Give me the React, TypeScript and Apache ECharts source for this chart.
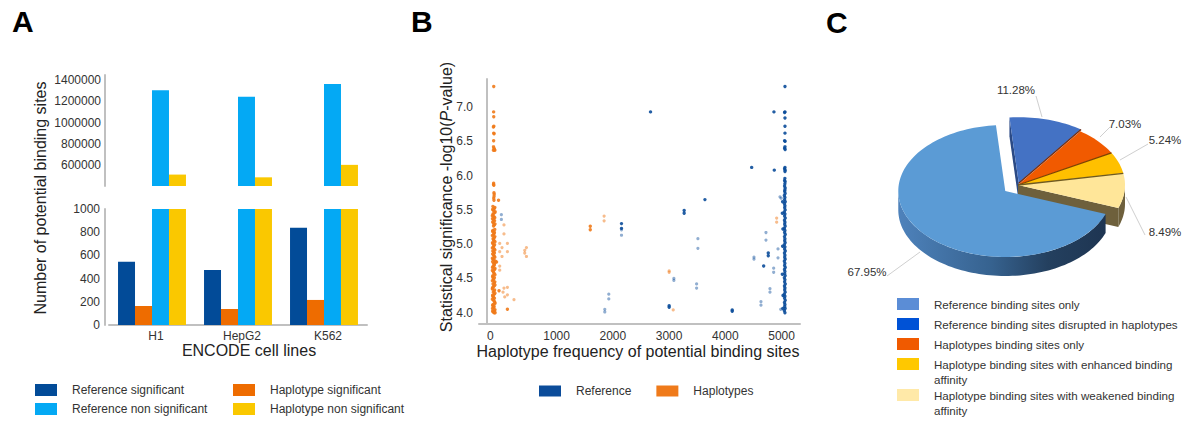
import React, { useEffect, useRef } from 'react';
import * as echarts from 'echarts';

const FONT = "'Liberation Sans', Arial, Helvetica, sans-serif";

// ---------- Panel A data ----------
const cellLines = ['H1', 'HepG2', 'K562'];
const refSignificant = [546, 474, 839];
const hapSignificant = [164, 138, 216];
const refNonSignificant = [1305000, 1245000, 1365000];
const hapNonSignificant = [508000, 482000, 600000];
const barNames = ['Reference significant', 'Haplotype significant', 'Reference non significant', 'Haplotype non significant'];
const barColors = ['#024B98', '#EE6C00', '#04A9F4', '#FAC800'];

// ---------- Panel B data: [haplotype frequency, -log10(P)] ----------
const refStrong = [
  [5297, 7.3], [5297, 6.93], [5290, 6.92], [5297, 6.84], [5297, 6.72], [5297, 6.62], [5290, 6.51], [5300, 6.5],
  [5297, 6.42], [5290, 6.4], [5300, 6.38], [5297, 6.12], [5290, 6.1], [5300, 6.08], [5297, 6.06], [5295, 5.96],
  [5290, 5.93], [5300, 5.91], [5295, 5.88], [5290, 5.85], [5300, 5.82], [5295, 5.79],
  [5292, 5.77], [5300, 5.74], [5286, 5.71], [5296, 5.68], [5290, 5.65], [5302, 5.62], [5288, 5.59], [5296, 5.56],
  [5292, 5.53], [5300, 5.5], [5286, 5.47], [5296, 5.44], [5290, 5.41], [5302, 5.38], [5288, 5.35], [5296, 5.32],
  [5292, 5.29], [5300, 5.26], [5286, 5.23], [5296, 5.2], [5290, 5.17], [5302, 5.14], [5288, 5.11], [5296, 5.08],
  [5292, 5.05], [5300, 5.02], [5286, 4.99], [5296, 4.96], [5290, 4.93], [5302, 4.9], [5288, 4.87], [5296, 4.84],
  [5292, 4.81], [5300, 4.78], [5286, 4.75], [5296, 4.72], [5290, 4.69], [5302, 4.66], [5288, 4.63], [5296, 4.6],
  [5292, 4.57], [5300, 4.54], [5286, 4.51], [5296, 4.48], [5290, 4.45], [5302, 4.42], [5288, 4.39], [5296, 4.36],
  [5292, 4.33], [5300, 4.3], [5286, 4.27], [5296, 4.24], [5290, 4.21], [5302, 4.18], [5288, 4.15], [5296, 4.12],
  [5292, 4.09], [5300, 4.06], [5286, 4.03], [5296, 4.0],
  [5255, 5.62], [5250, 5.45], [5260, 5.22], [5255, 4.97], [5250, 4.56], [5262, 4.25], [5258, 4.06],
  [2907, 6.93], [4705, 6.12], [5107, 6.08], [3874, 5.65], [3505, 5.49], [3505, 5.45], [5000, 4.87], [5000, 4.83],
  [4918, 4.68], [3238, 4.1], [3238, 4.08], [4359, 4.04], [4359, 4.02], [2391, 5.3], [2391, 5.23], [5101, 6.93],
];
const refFaint = [
  [256, 5.43], [256, 5.36], [2391, 5.21], [2391, 5.13], [2165, 4.27], [2165, 4.2], [2094, 4.05], [2094, 4.01],
  [4959, 5.17], [4959, 5.06], [3749, 5.08], [3749, 4.94], [5173, 4.93], [5173, 4.8], [4746, 4.81], [4746, 4.78],
  [5096, 4.65], [5096, 4.59], [3322, 4.5], [3322, 4.47], [3726, 4.42], [3726, 4.36], [5030, 4.35], [5030, 4.3],
  [4870, 4.16], [4870, 4.11], [5221, 4.05], [5208, 5.69], [5230, 5.67],
];
const hapStrong = [
  [120, 7.3], [118, 6.93], [120, 6.86], [122, 6.72], [114, 6.71], [120, 6.62], [126, 6.61], [118, 6.51],
  [116, 6.42], [124, 6.4], [132, 6.38], [114, 6.37], [140, 6.37], [118, 5.89], [116, 5.87], [122, 5.86],
  [124, 5.75], [128, 5.73], [126, 5.7], [120, 5.67], [124, 5.64], [205, 5.64],
  [105, 5.55], [130, 5.52], [115, 5.49], [140, 5.46], [108, 5.43], [125, 5.4], [98, 5.37], [135, 5.34],
  [112, 5.31], [128, 5.28], [104, 5.2], [132, 5.17], [118, 5.14], [140, 5.11], [108, 5.08], [126, 5.05],
  [98, 5.02], [135, 4.99], [112, 4.96], [128, 4.93], [104, 4.9], [132, 4.87], [118, 4.84], [140, 4.81],
  [108, 4.78], [150, 4.75], [170, 4.74], [140, 4.73], [115, 4.72], [126, 4.69], [98, 4.66], [135, 4.63],
  [112, 4.6], [128, 4.57], [104, 4.54], [132, 4.51], [118, 4.48], [140, 4.45], [108, 4.42], [126, 4.39],
  [98, 4.36], [135, 4.33], [112, 4.3], [128, 4.27], [104, 4.24], [132, 4.21], [118, 4.18], [140, 4.15],
  [108, 4.12], [126, 4.09], [98, 4.06], [135, 4.03], [112, 4.01], [128, 4.0],
  [140, 5.535], [100, 5.505], [145, 5.475], [110, 5.445], [95, 5.415], [138, 5.385], [118, 5.355], [102, 5.325],
  [142, 5.295], [116, 5.265], [138, 5.215], [100, 5.185], [125, 5.155], [96, 5.125], [130, 5.095], [115, 5.065],
  [142, 5.035], [106, 5.005], [122, 4.975], [96, 4.945], [140, 4.915], [115, 4.885], [100, 4.855], [128, 4.825],
  [96, 4.795], [125, 4.765], [100, 4.745], [132, 4.705], [108, 4.675], [142, 4.645], [96, 4.615], [120, 4.585],
  [142, 4.555], [100, 4.525], [112, 4.495], [96, 4.465], [130, 4.435], [142, 4.405], [110, 4.375], [96, 4.345],
  [125, 4.315], [142, 4.285], [100, 4.255], [115, 4.225], [96, 4.195], [130, 4.165], [142, 4.135], [100, 4.105],
  [120, 4.075], [142, 4.045], [100, 4.02], [145, 4.0],
  [214, 4.32], [363, 4.05], [1836, 5.26], [1836, 5.21],
];
const hapFaint = [
  [302, 5.28], [302, 5.15], [226, 5.01], [363, 5.01], [267, 4.95], [226, 4.89], [363, 4.89], [267, 4.82],
  [226, 4.68], [226, 4.62], [363, 4.37], [302, 4.36], [285, 4.3], [315, 4.23], [363, 4.26], [480, 4.19],
  [671, 4.91], [671, 4.87], [701, 4.95], [701, 4.82], [2082, 5.41], [2082, 5.34], [3238, 4.61], [3238, 4.59],
  [3310, 4.04], [5149, 5.38], [5149, 5.32],
];
const scatterBlue = '#0B4C9A';
const scatterOrange = '#EF7A1A';

// ---------- Panel C data ----------
const pieNames = [
  'Reference binding sites only',
  'Reference binding sites disrupted in haplotypes',
  'Haplotypes binding sites only',
  'Haplotype binding sites with enhanced binding\naffinity',
  'Haplotype binding sites with weakened binding\naffinity',
];
const piePercents = [67.95, 11.28, 7.03, 5.24, 8.49];

// ---------- Panel C geometry / styles ----------
const PIE = { cx: 1018, cy: 185, rx: 107, ry: 66, depth: 19, startDeg: -5 };
const pieOrder = [1, 2, 3, 4, 0];
const pieExplode = [16, 3, 0, 0, 0];
const pieTopColors = ['#5B9BD5', '#4472C4', '#F15A00', '#FFC000', '#FFE699'];
const pieCutColors = ['#2B4A85', '#2B4A85', '#8A3300', '#8A6A00', '#6E603C'];
const pieEdgeColors = ['#2F528F', '#7B2D0A', '#7E4300', '#6F5A20', '#6F5A20'];
const pieLegendColors = ['#5B8DD6', '#0052D6', '#F05A00', '#FFC800', '#FFE9A8'];
const pieLabelPos = [[867, 272], [1016, 90], [1125, 124], [1165, 140], [1165, 232]];
const pieLeaders = [
  [[887, 276], [920, 252]],
  [[1036, 96], [1042, 117]],
  [[1110, 127], [1100, 137]],
  [[1148, 144], [1120, 160]],
  [[1145, 235], [1126, 197]],
];
const pieLegendRows = [304, 324, 344, 364, 395];

function pieAngles() {
  const total = piePercents.reduce((a, b) => a + b, 0);
  const res: number[][] = new Array(piePercents.length);
  let acc = PIE.startDeg;
  for (const i of pieOrder) {
    const a1 = acc + (piePercents[i] / total) * 360;
    res[i] = [acc, a1];
    acc = a1;
  }
  return res;
}

function renderPie(params: any, api: any) {
  const i = params.dataIndex;
  const value = api.value(0);
  const ang = pieAngles();
  const [a0, a1] = ang[i];
  const pos = pieOrder.indexOf(i);
  const prev = pieOrder[(pos + pieOrder.length - 1) % pieOrder.length];
  const next = pieOrder[(pos + 1) % pieOrder.length];
  const mid = ((a0 + a1) / 2) * Math.PI / 180;
  const e = pieExplode[i];
  const ox = PIE.cx + e * Math.sin(mid);
  const oy = PIE.cy - e * Math.cos(mid) * PIE.ry / PIE.rx;
  const pt = (deg: number, dy = 0) => {
    const r = deg * Math.PI / 180;
    return [ox + PIE.rx * Math.sin(r), oy - PIE.ry * Math.cos(r) + dy];
  };
  const arc = (from: number, to: number, dy: number) => {
    const pts: number[][] = [];
    const steps = Math.max(2, Math.ceil(Math.abs(to - from) / 2));
    for (let k = 0; k <= steps; k++) pts.push(pt(from + ((to - from) * k) / steps, dy));
    return pts;
  };
  const base = i === 0 ? 10 : 0;
  const children: any[] = [];
  const w0 = Math.max(a0, 90);
  const w1 = Math.min(a1, 270);
  if (w1 > w0) {
    const fill = i === 0
      ? new echarts.graphic.LinearGradient(0, 0, 1, 0, [
          { offset: 0, color: '#4E82BB' },
          { offset: 0.45, color: '#36628F' },
          { offset: 0.72, color: '#24405F' },
          { offset: 1, color: '#1E3552' },
        ])
      : pieCutColors[i];
    children.push({
      type: 'polygon', z2: base + 1,
      shape: { points: arc(w0, w1, 0).concat(arc(w1, w0, PIE.depth)) },
      style: { fill },
    });
  }
  const apex = [ox, oy];
  const norm = (d: number) => ((d % 360) + 360) % 360;
  if (pieExplode[next] > 0 && norm(a1) > 0 && norm(a1) < 180) {
    const r = pt(a1);
    children.push({
      type: 'polygon', z2: base + 1,
      shape: { points: [apex, r, [r[0], r[1] + PIE.depth], [apex[0], apex[1] + PIE.depth]] },
      style: { fill: pieCutColors[i] },
    });
  }
  if (pieExplode[prev] > 0 && norm(a0) > 180 && norm(a0) < 360) {
    const r = pt(a0);
    children.push({
      type: 'polygon', z2: base + 1,
      shape: { points: [apex, r, [r[0], r[1] + PIE.depth], [apex[0], apex[1] + PIE.depth]] },
      style: { fill: pieCutColors[i] },
    });
  }
  children.push({
    type: 'polygon', z2: base + 2,
    shape: { points: [apex].concat(arc(a0, a1, 0)) },
    style: { fill: pieTopColors[i] },
  });
  if (pieExplode[next] === 0 && i !== 0) {
    const r = pt(a1);
    children.push({
      type: 'line', z2: base + 3,
      shape: { x1: apex[0], y1: apex[1], x2: r[0], y2: r[1] },
      style: { stroke: pieEdgeColors[i], lineWidth: 1.3 },
    });
  }
  const ld = pieLeaders[i];
  children.push({
    type: 'line', z2: 30,
    shape: { x1: ld[0][0], y1: ld[0][1], x2: ld[1][0], y2: ld[1][1] },
    style: { stroke: '#cfcfcf', lineWidth: 1 },
  });
  children.push({
    type: 'text', z2: 31,
    x: pieLabelPos[i][0], y: pieLabelPos[i][1],
    style: {
      text: value.toFixed(2) + '%', fontSize: 11.5, fontFamily: FONT, fill: '#333',
      align: 'center', verticalAlign: 'middle',
    },
  });
  return { type: 'group', children };
}

function buildOption() {
  const axisLineStyle = { color: '#c0c0c0', width: 2 };
  const labelStyle = { fontSize: 12, color: '#333', fontFamily: FONT };
  const plain = (v: number) => String(v);

  const barSeries: any[] = [];
  const barData = [refSignificant, hapSignificant, refNonSignificant, hapNonSignificant];
  for (let g = 0; g < 2; g++) {
    barNames.forEach((name, k) => {
      barSeries.push({
        type: 'bar', name, data: barData[k], xAxisIndex: g, yAxisIndex: g,
        barGap: '0%', barCategoryGap: '21%', clip: true,
        itemStyle: { color: barColors[k] },
      });
    });
  }

  const scatterSeries = [
    { name: 'Reference', data: refStrong, color: scatterBlue, opacity: 0.9, size: 3.4 },
    { name: 'Reference', data: refFaint, color: scatterBlue, opacity: 0.45, size: 3.2 },
    { name: 'Haplotypes', data: hapStrong, color: scatterOrange, opacity: 0.9, size: 3.4 },
    { name: 'Haplotypes', data: hapFaint, color: scatterOrange, opacity: 0.5, size: 3.2 },
  ].map((s) => ({
    type: 'scatter', name: s.name, data: s.data, xAxisIndex: 2, yAxisIndex: 2,
    symbolSize: s.size, itemStyle: { color: s.color, opacity: s.opacity },
  }));

  const legendText = { fontSize: 12, color: '#333', fontFamily: FONT, padding: [0, 0, 0, 10] };

  const graphic: any[] = [
    { type: 'text', x: 12, y: 21, style: { text: 'A', fontSize: 30, fontWeight: 'bold', fill: '#000', fontFamily: FONT, verticalAlign: 'middle' } },
    { type: 'text', x: 411, y: 21, style: { text: 'B', fontSize: 30, fontWeight: 'bold', fill: '#000', fontFamily: FONT, verticalAlign: 'middle' } },
    { type: 'text', x: 826, y: 22, style: { text: 'C', fontSize: 30, fontWeight: 'bold', fill: '#000', fontFamily: FONT, verticalAlign: 'middle' } },
    { type: 'text', x: 40, y: 198, rotation: Math.PI / 2, style: { text: 'Number of potential binding sites', fontSize: 16, fill: '#222', fontFamily: FONT, align: 'center', verticalAlign: 'middle' } },
    { type: 'text', x: 249, y: 350, style: { text: 'ENCODE cell lines', fontSize: 16, fill: '#222', fontFamily: FONT, align: 'center', verticalAlign: 'middle' } },
    {
      type: 'text', x: 446, y: 197, rotation: Math.PI / 2,
      style: {
        text: 'Statistical significance -log10({i|P}-value)', fontSize: 16, fill: '#222', fontFamily: FONT,
        align: 'center', verticalAlign: 'middle',
        rich: { i: { fontStyle: 'italic', fontSize: 16, fill: '#222', fontFamily: FONT } },
      },
    },
    { type: 'text', x: 638, y: 351, style: { text: 'Haplotype frequency of potential binding sites', fontSize: 16, fill: '#222', fontFamily: FONT, align: 'center', verticalAlign: 'middle' } },
  ];
  pieNames.forEach((name, i) => {
    const cy = pieLegendRows[i];
    graphic.push({ type: 'rect', shape: { x: 897, y: cy - 6, width: 22, height: 12 }, style: { fill: pieLegendColors[i] } });
    graphic.push({
      type: 'text', x: 934, y: cy - 7.5,
      style: { text: name, fontSize: 11.6, lineHeight: 15, fill: '#333', fontFamily: FONT, verticalAlign: 'top', align: 'left' },
    });
  });

  return {
    animation: false,
    textStyle: { fontFamily: FONT },
    grid: [
      { left: 109, right: 818, top: 75, height: 111 },
      { left: 109, right: 818, top: 209, height: 116 },
      { left: 479, right: 385, top: 79, height: 245 },
    ],
    xAxis: [
      { gridIndex: 0, type: 'category', data: cellLines, axisLine: { show: false }, axisTick: { show: false }, axisLabel: { show: false } },
      {
        gridIndex: 1, type: 'category', data: cellLines,
        axisLine: { show: true, lineStyle: axisLineStyle }, axisTick: { show: false },
        axisLabel: { ...labelStyle, margin: 5, padding: [0, 0, 0, 8] },
      },
      {
        gridIndex: 2, type: 'value', min: -142, max: 5564, splitNumber: 5,
        axisLine: { show: true, lineStyle: axisLineStyle }, axisTick: { show: false }, splitLine: { show: false },
        axisLabel: { ...labelStyle, align: 'left', margin: 6, showMinLabel: false, showMaxLabel: false, formatter: plain },
      },
    ],
    yAxis: [
      {
        gridIndex: 0, type: 'value', min: 400000, max: 1450000, interval: 200000, offset: 4,
        axisLine: { show: true, lineStyle: axisLineStyle }, axisTick: { show: false }, splitLine: { show: false },
        axisLabel: { ...labelStyle, margin: 4, showMinLabel: false, showMaxLabel: false, formatter: plain },
      },
      {
        gridIndex: 1, type: 'value', min: 0, max: 1000, interval: 200, offset: 4,
        axisLine: { show: true, lineStyle: axisLineStyle }, axisTick: { show: false }, splitLine: { show: false },
        axisLabel: { ...labelStyle, margin: 5, formatter: plain },
      },
      {
        gridIndex: 2, type: 'value', min: 3.835, max: 7.41, splitNumber: 7,
        axisLine: { show: true, lineStyle: axisLineStyle }, axisTick: { show: false }, splitLine: { show: false },
        axisLabel: { ...labelStyle, margin: 6, showMinLabel: false, showMaxLabel: false, formatter: (v: number) => v.toFixed(1) },
      },
    ],
    legend: [
      {
        data: [barNames[0], barNames[2]], orient: 'vertical', left: 35, top: 384, itemWidth: 22, itemHeight: 12,
        itemGap: 7, icon: 'rect', selectedMode: false, textStyle: legendText, padding: 0,
      },
      {
        data: [barNames[1], barNames[3]], orient: 'vertical', left: 233, top: 384, itemWidth: 22, itemHeight: 12,
        itemGap: 7, icon: 'rect', selectedMode: false, textStyle: legendText, padding: 0,
      },
      {
        data: [
          { name: 'Reference', itemStyle: { color: scatterBlue, opacity: 1 } },
          { name: 'Haplotypes', itemStyle: { color: scatterOrange, opacity: 1 } },
        ],
        orient: 'horizontal', left: 539, top: 385, itemWidth: 22, itemHeight: 11, itemGap: 25, icon: 'rect',
        selectedMode: false, textStyle: legendText, padding: 0,
      },
    ],
    series: [
      ...barSeries,
      ...scatterSeries,
      { type: 'custom', coordinateSystem: 'none', data: piePercents, renderItem: renderPie, silent: true },
    ],
    graphic,
  };
}

export default function App() {
  const ref = useRef<HTMLDivElement>(null);
  useEffect(() => {
    document.body.style.margin = '0';
    if (!ref.current) return;
    const chart = echarts.init(ref.current, undefined, { renderer: 'svg' });
    chart.setOption(buildOption() as any);
    return () => chart.dispose();
  }, []);
  return <div ref={ref} style={{ width: 1185, height: 421, background: '#fff' }} />;
}
